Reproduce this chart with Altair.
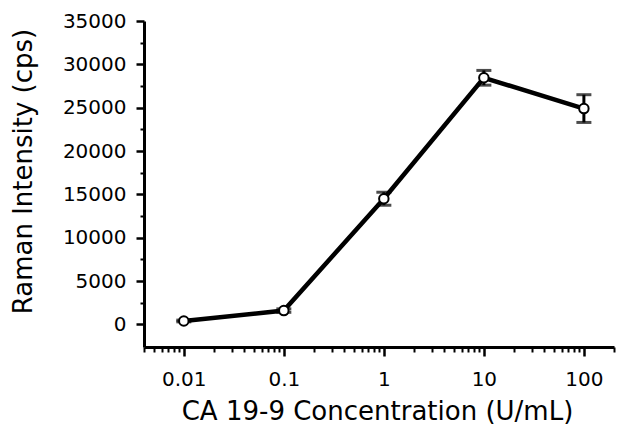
import altair as alt
import pandas as pd

# Data
conc = [0.01, 0.1, 1, 10, 100]
intensity = [400, 1600, 14500, 28450, 24900]
err = [100, 200, 750, 850, 1600]

x_major = [0.01, 0.1, 1, 10, 100]
x_minor = [0.004, 0.005, 0.006, 0.007, 0.008, 0.009,
           0.02, 0.03, 0.04, 0.05, 0.06, 0.07, 0.08, 0.09,
           0.2, 0.3, 0.4, 0.5, 0.6, 0.7, 0.8, 0.9,
           2, 3, 4, 5, 6, 7, 8, 9,
           20, 30, 40, 50, 60, 70, 80, 90, 200]
y_major = [0, 5000, 10000, 15000, 20000, 25000, 30000, 35000]
y_minor = [2500, 7500, 12500, 17500, 22500, 27500, 32500]

df = pd.DataFrame({"conc": conc, "val": intensity, "err": err})
df["lo"] = df["val"] - df["err"]
df["hi"] = df["val"] + df["err"]

FONT = "DejaVu Sans"
xs = alt.Scale(type="log", domain=[0.004, 200], nice=False)
ys = alt.Scale(domain=[-2600, 35000], nice=False, zero=False)

base = alt.Chart(df)

line = base.mark_line(color="black", strokeWidth=4.5).encode(
    x=alt.X("conc:Q", scale=xs, axis=alt.Axis(
        values=x_major, format="~g", title="CA 19-9 Concentration (U/mL)",
        orient="bottom", tickSize=9, tickWidth=2.5, domainWidth=3,
        labelPadding=13, labelFontSize=20, titleFontSize=26,
        titleX=233, titleY=72, titleBaseline="alphabetic", titleAlign="center",
        titleFontWeight="normal", grid=False)),
    y=alt.Y("val:Q", scale=ys, axis=alt.Axis(
        values=y_major, format="d", title="Raman Intensity (cps)",
        orient="left", tickSize=8, tickWidth=2.5, domainWidth=3,
        labelPadding=10, labelFontSize=20, titleFontSize=26,
        titleX=-113, titleY=150, titleAngle=-90, titleBaseline="alphabetic",
        titleAlign="center", titleFontWeight="normal", grid=False)),
)

rules = base.mark_rule(color="black", strokeWidth=3).encode(
    x=alt.X("conc:Q", scale=xs, axis=None),
    y=alt.Y("lo:Q", scale=ys, axis=None),
    y2="hi:Q",
)

cap_lo = base.mark_tick(color="black", thickness=3, size=15, orient="horizontal").encode(
    x=alt.X("conc:Q", scale=xs, axis=alt.Axis(
        values=x_minor, labels=False, title=None, orient="bottom",
        tickSize=5, tickWidth=2, domain=False, grid=False)),
    y=alt.Y("lo:Q", scale=ys, axis=alt.Axis(
        values=y_minor, labels=False, title=None, orient="left",
        tickSize=4, tickWidth=2, domain=False, grid=False)),
)

cap_hi = base.mark_tick(color="black", thickness=3, size=15, orient="horizontal").encode(
    x=alt.X("conc:Q", scale=xs, axis=None),
    y=alt.Y("hi:Q", scale=ys, axis=None),
)

points = base.mark_point(shape="circle", filled=True, fill="white", stroke="black",
                         strokeWidth=2, size=90, opacity=1).encode(
    x=alt.X("conc:Q", scale=xs, axis=None),
    y=alt.Y("val:Q", scale=ys, axis=None),
)

chart = alt.layer(line, rules, cap_lo, cap_hi, points).resolve_axis(
    x="independent", y="independent"
).properties(
    width=470, height=326,
    autosize=alt.AutoSizeParams(type="none"),
    padding={"left": 136, "top": 13, "right": 2, "bottom": 79},
).configure_view(stroke=None).configure_axis(
    domainColor="black", tickColor="black", labelColor="black", titleColor="black",
    labelFont=FONT, titleFont=FONT,
)

chart.save("out.html", embed_options={"renderer": "svg", "actions": False})
